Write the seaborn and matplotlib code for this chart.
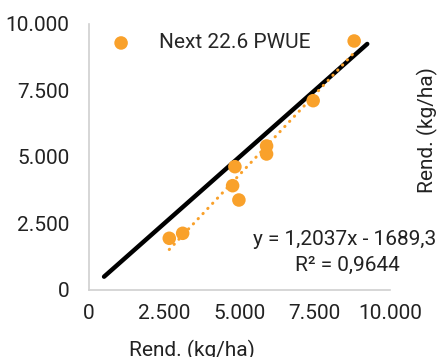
import numpy as np
import seaborn as sns
import matplotlib.pyplot as plt

# --- DATOS ---
rend_x = [2668, 3113, 4850, 4774, 4983, 5903, 5903, 7452, 8815]
rend_y = [1944, 2131, 4636, 3921, 3383, 5414, 5113, 7117, 9361]
serie = "Next 22.6 PWUE"
linea_11 = [500, 9250]
pendiente = 1.2037
intercepto = -1689.3
ticks = [0, 2500, 5000, 7500, 10000]
tick_labels = ["0", "2.500", "5.000", "7.500", "10.000"]

NARANJA = "#F9A12B"

sns.set_theme(style="white")
plt.rcParams['font.family'] = ['Roboto', 'DejaVu Sans']

fig = plt.figure(figsize=(4.42, 3.57), dpi=100)
ax = fig.add_axes([0.2014, 0.1877, 0.6805, 0.7451])

# linea 1:1
sns.lineplot(x=linea_11, y=linea_11, color="black", linewidth=3.2,
             solid_capstyle="round", ax=ax, zorder=2)

# tendencia lineal
xt = np.array([min(rend_x), max(rend_x)])
sns.lineplot(x=xt, y=pendiente * xt + intercepto, color=NARANJA, linewidth=2.2,
             linestyle=(0, (0.1, 2.2)), dash_capstyle="round", ax=ax, zorder=3)

sns.scatterplot(x=rend_x, y=rend_y, color=NARANJA, s=95, edgecolor="none",
                label=serie, ax=ax, zorder=4)

ax.set_xlim(0, 10000)
ax.set_ylim(0, 10000)
ax.set_xticks(ticks)
ax.set_xticklabels(tick_labels)
ax.set_yticks(ticks)
ax.set_yticklabels(tick_labels)
ax.tick_params(axis='both', length=0, labelsize=15, colors="#222222")
ax.tick_params(axis='x', pad=10)
ax.tick_params(axis='y', pad=14)

for s in ["top", "right"]:
    ax.spines[s].set_visible(False)
for s in ["left", "bottom"]:
    ax.spines[s].set_color("#D0D0D0")
    ax.spines[s].set_linewidth(1.2)

ax.set_xlabel("")
ax.set_ylabel("")
leg = ax.legend(loc="upper left", bbox_to_anchor=(-0.025, 1.035), frameon=False,
                fontsize=15, handletextpad=0.8, markerscale=1.0)

ax.text(1.153, 0.188, "y = 1,2037x - 1689,3", transform=ax.transAxes,
        ha="right", va="center", fontsize=15, color="#222222")
ax.text(1.033, 0.094, "R² = 0,9644", transform=ax.transAxes,
        ha="right", va="center", fontsize=15, color="#222222")

fig.text(0.966, 0.635, "Rend. (kg/ha)", rotation=90, ha="center", va="center",
         fontsize=15, color="#222222")
fig.text(0.435, -0.012, "Rend. (kg/ha)", ha="center", va="bottom",
         fontsize=15, color="#222222")

fig.savefig("out.png", dpi=100)
